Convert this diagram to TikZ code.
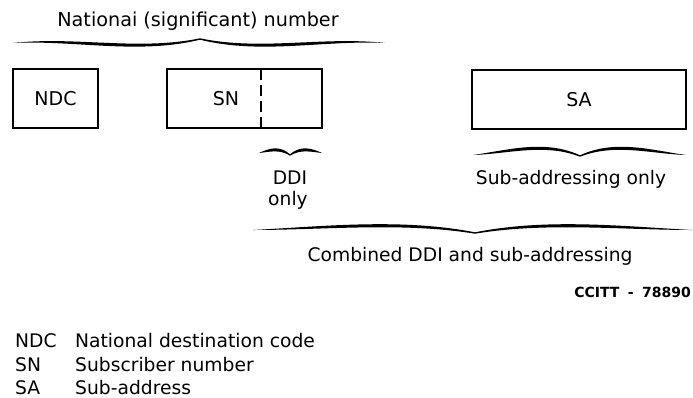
\documentclass[tikz,border=0pt]{standalone}
\usepackage{fontspec}
\setmainfont{DejaVu Sans}
\newcommand\brw{1.9}
\newcommand\brt{0.7}
% curly brace as a filled shape: x1, xm (tip), x2, y of ends, y of tip, control y near ends, control y near tip
\newcommand\cbrace[7]{%
  \fill[black] (#1,#4)
   .. controls ({#1+0.33*(#2-#1)},{#6-\brw}) and ({#2-0.33*(#2-#1)},{#7-\brw}) .. (#2,{#5-\brt})
   .. controls ({#2+0.33*(#3-#2)},{#7-\brw}) and ({#3-0.33*(#3-#2)},{#6-\brw}) .. (#3,#4)
   .. controls ({#3-0.33*(#3-#2)},{#6+\brw}) and ({#2+0.33*(#3-#2)},{#7+\brw}) .. (#2,{#5+\brt})
   .. controls ({#2-0.33*(#2-#1)},{#7+\brw}) and ({#1+0.33*(#2-#1)},{#6+\brw}) .. (#1,#4) -- cycle;}
\tikzset{
  field/.style={draw=black, line width=2.2pt, inner sep=0pt},
  boxtext/.style={font=\fontsize{19}{22}\selectfont, inner sep=0pt},
  lbl/.style={font=\fontsize{18.7}{22}\selectfont, inner sep=0pt, anchor=base},
  legend/.style={font=\fontsize{18.7}{22}\selectfont, inner sep=0pt, anchor=base west},
  ddiline/.style={line width=2.6pt, dash pattern=on 11pt off 5pt},
  mark78/.style={font=\bfseries\fontsize{14}{16}\selectfont, inner sep=0pt, anchor=base east}
}
\begin{document}
\begin{tikzpicture}[x=1pt,y=-1pt]
\useasboundingbox (0,0) rectangle (693,397);
% title and top brace
\node[lbl, font=\fontsize{19.2}{22}\selectfont] (title) at (198,26) {Nationai (significant) number};
\cbrace{13}{200}{385}{43}{39}{38}{53}
% boxes
\node[field, minimum width=85pt, minimum height=59pt] (ndc) at (55.5,98.5) {};
\node[boxtext] (ndct) at (ndc.center) {NDC};
\node[field, minimum width=155pt, minimum height=59pt] (sn) at (244.5,98.5) {};
\node[boxtext] (snt) at (226,98.5) {SN};
\coordinate (dtop) at (261,69);
\coordinate (dbot) at (261,128);
\draw[ddiline] (dtop) -- (dbot);
\node[field, minimum width=214pt, minimum height=59pt] (sa) at (579,99.5) {};
\node[boxtext] (sat) at (sa.center) {SA};
% DDI brace
\cbrace{259}{290}{322}{153}{155}{150}{147}
\node[lbl] (ddi) at (290,184) {DDI};
\node[lbl] (ddio) at (288,205) {only};
% SA brace
\cbrace{473}{580}{686}{155}{156}{152}{141}
\node[lbl] (sao) at (571,184) {Sub-addressing only};
% combined brace
\cbrace{253}{475}{692}{230}{233}{228}{220}
\node[lbl] (comb) at (470,261) {Combined DDI and sub-addressing};
% figure mark
\node[mark78] (ccitt) at (691,297) {CCITT\hspace{0.6em}-\hspace{0.6em}78890};
% legend
\node[legend] (l1a) at (15,347) {NDC};
\node[legend] (l1b) at (75,347) {National destination code};
\node[legend] (l2a) at (15,371) {SN};
\node[legend] (l2b) at (75,371) {Subscriber number};
\node[legend] (l3a) at (15,394) {SA};
\node[legend] (l3b) at (75,394) {Sub-address};
\end{tikzpicture}
\end{document}
